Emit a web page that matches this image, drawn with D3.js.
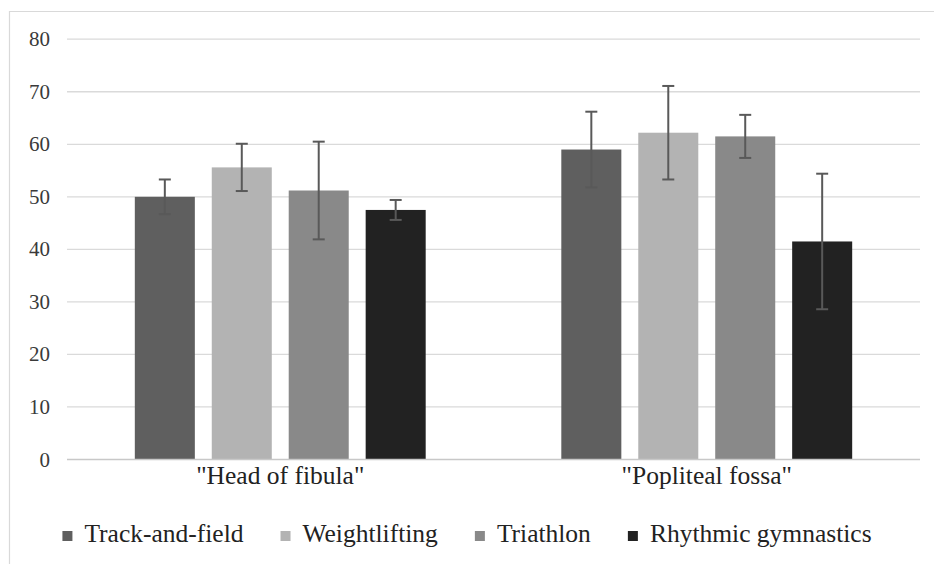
<!DOCTYPE html>
<html>
<head>
<meta charset="utf-8">
<script src="https://cdn.jsdelivr.net/npm/d3@7/dist/d3.min.js"></script>
<style>
  html, body { margin: 0; padding: 0; background: #fff; }
</style>
</head>
<body>
<svg id="chart" width="934" height="564"></svg>
<script>
// Site categories along the x axis
const categories = ['"Head of fibula"', '"Popliteal fossa"'];
// Sport groups (one bar per group within each category)
const seriesNames = ["Track-and-field", "Weightlifting", "Triathlon", "Rhythmic gymnastics"];
const seriesColors = ["#5f5f5f", "#b3b3b3", "#898989", "#222222"];
// Mean values per series, in category order
const trackField = [50.0, 59.0];
const weightlifting = [55.6, 62.2];
const triathlon = [51.2, 61.5];
const rhythmic = [47.5, 41.5];
// Standard deviations (error bar half-lengths)
const trackFieldSD = [3.3, 7.2];
const weightliftingSD = [4.5, 8.9];
const triathlonSD = [9.3, 4.1];
const rhythmicSD = [1.9, 12.9];
// Y axis ticks
const yTicks = [0, 10, 20, 30, 40, 50, 60, 70, 80];

const seriesValues = [trackField, weightlifting, triathlon, rhythmic];
const seriesSD = [trackFieldSD, weightliftingSD, triathlonSD, rhythmicSD];

const FONT = '"Liberation Serif", "Times New Roman", serif';
const svg = d3.select("#chart");

// chart-area frame (left and top edges)
svg.append("path")
  .attr("d", "M9.5,564 V11.5 H934")
  .attr("fill", "none")
  .attr("stroke", "#d9d9d9")
  .attr("stroke-width", 1.2);

const plot = { left: 67, right: 920, top: 39.2, bottom: 459.5 };

const y = d3.scaleLinear().domain([0, 80]).range([plot.bottom, plot.top]);
const x0 = d3.scaleBand().domain(categories).range([plot.left, plot.right])
  .paddingInner(0.318).paddingOuter(0.159);
const x1 = d3.scaleBand().domain(seriesNames).range([0, x0.bandwidth()])
  .paddingInner(0.22).paddingOuter(0);

// horizontal gridlines
svg.append("g").selectAll("line").data(yTicks.filter(d => d > 0)).join("line")
  .attr("x1", plot.left).attr("x2", plot.right)
  .attr("y1", d => y(d)).attr("y2", d => y(d))
  .attr("stroke", "#dadada").attr("stroke-width", 1.3);

// y tick labels
svg.append("g").selectAll("text").data(yTicks).join("text")
  .attr("x", 50).attr("y", d => y(d) + 7)
  .attr("text-anchor", "end")
  .style("font-family", FONT).style("font-size", "21px")
  .attr("fill", "#3a3a3a")
  .text(d => d);

// bars
const rows = [];
categories.forEach((c, ci) => {
  seriesNames.forEach((s, si) => {
    rows.push({ cat: c, series: s, si, value: seriesValues[si][ci], sd: seriesSD[si][ci] });
  });
});

svg.append("g").selectAll("rect").data(rows).join("rect")
  .attr("x", d => x0(d.cat) + x1(d.series))
  .attr("y", d => y(d.value))
  .attr("width", x1.bandwidth())
  .attr("height", d => y(0) - y(d.value))
  .attr("fill", d => seriesColors[d.si]);

// baseline axis line
svg.append("line")
  .attr("x1", plot.left).attr("x2", plot.right)
  .attr("y1", y(0)).attr("y2", y(0))
  .attr("stroke", "#c8c8c8").attr("stroke-width", 1.3);

// error bars
const eb = svg.append("g").attr("stroke", "#595959").attr("stroke-width", 2).attr("fill", "none");
const cx = d => x0(d.cat) + x1(d.series) + x1.bandwidth() / 2;
eb.selectAll("line.v").data(rows).join("line").attr("class", "v")
  .attr("x1", cx).attr("x2", cx)
  .attr("y1", d => y(d.value + d.sd)).attr("y2", d => y(d.value - d.sd));
eb.selectAll("line.top").data(rows).join("line").attr("class", "top")
  .attr("x1", d => cx(d) - 6).attr("x2", d => cx(d) + 6)
  .attr("y1", d => y(d.value + d.sd)).attr("y2", d => y(d.value + d.sd));
eb.selectAll("line.bot").data(rows).join("line").attr("class", "bot")
  .attr("x1", d => cx(d) - 6).attr("x2", d => cx(d) + 6)
  .attr("y1", d => y(d.value - d.sd)).attr("y2", d => y(d.value - d.sd));

// category labels
svg.append("g").selectAll("text").data(categories).join("text")
  .attr("x", d => x0(d) + x0.bandwidth() / 2)
  .attr("y", 484)
  .attr("text-anchor", "middle")
  .style("font-family", FONT).style("font-size", "25.5px")
  .attr("fill", "#222")
  .text(d => d);

// legend
const legend = svg.append("g");
const items = legend.selectAll("g").data(seriesNames).join("g");
items.append("rect")
  .attr("width", 10).attr("height", 10)
  .attr("y", 531)
  .attr("fill", (d, i) => seriesColors[i]);
items.append("text")
  .attr("x", 22).attr("y", 542)
  .style("font-family", FONT).style("font-size", "25.5px")
  .attr("fill", "#222")
  .text(d => d);
let widths = [];
items.each(function () { widths.push(d3.select(this).select("text").node().getComputedTextLength()); });
const gapAfter = 37;
const total = widths.reduce((a, w) => a + 22 + w, 0) + gapAfter * (widths.length - 1);
let cursor = 467 - total / 2;
items.attr("transform", (d, i) => {
  const t = `translate(${cursor},0)`;
  cursor += 22 + widths[i] + gapAfter;
  return t;
});
</script>
</body>
</html>
